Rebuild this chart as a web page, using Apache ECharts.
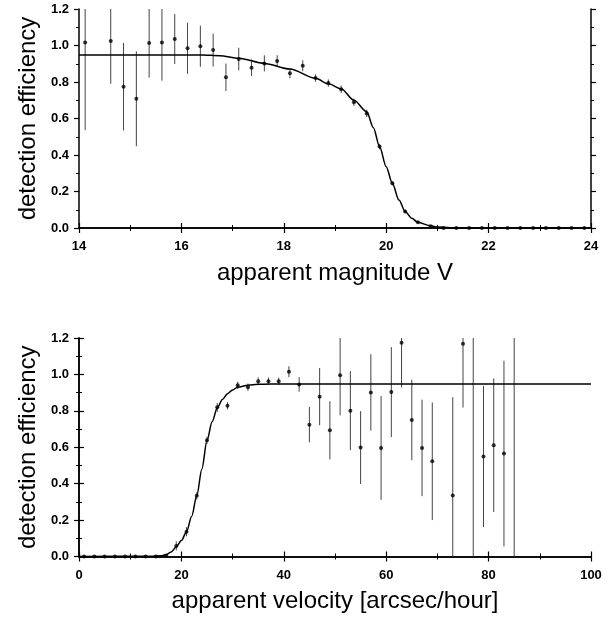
<!DOCTYPE html>
<html>
<head>
<meta charset="utf-8">
<script src="https://cdn.jsdelivr.net/npm/echarts@6/dist/echarts.min.js"></script>
<style>
  html, body { margin: 0; padding: 0; background: #fff; }
  #chart { width: 616px; height: 621px; }
</style>
</head>
<body>
<div id="chart"></div>
<script>
// 上图：视星等 V
const magV = [14.12, 14.62, 14.87, 15.12, 15.37, 15.62, 15.87, 16.12, 16.37, 16.62,
    16.87, 17.12, 17.37, 17.62, 17.87, 18.12, 18.37, 18.62, 18.87, 19.12,
    19.37, 19.62, 19.87, 20.12, 20.37, 20.62, 20.87, 21.12, 21.37, 21.62,
    21.87, 22.12, 22.37, 22.62, 22.87, 23.12, 23.37, 23.62, 23.87];
const effMag = [1.017, 1.025, 0.774, 0.708, 1.014, 1.017, 1.036, 0.985, 0.996, 0.975,
    0.826, 0.926, 0.878, 0.902, 0.915, 0.848, 0.889, 0.822, 0.794, 0.760,
    0.689, 0.628, 0.446, 0.245, 0.091, 0.031, 0.010, 0, 0, 0,
    0, 0, 0, 0, 0, 0, 0, 0, 0];
const errMag = [0.48, 0.235, 0.24, 0.26, 0.19, 0.21, 0.137, 0.14, 0.113, 0.09,
    0.075, 0.062, 0.045, 0.044, 0.032, 0.028, 0.03, 0.02, 0.02, 0.02,
    0.02, 0.02, 0.015, 0.012, 0.01, 0.005, 0.003, 0, 0, 0,
    0, 0, 0, 0, 0, 0, 0, 0, 0];
// 拟合曲线
const magFit = [14, 16.4, 16.75, 17.12, 17.62, 18.12, 18.62, 18.87, 19.12, 19.37,
    19.62, 19.75, 19.87, 20, 20.12, 20.25, 20.37, 20.5, 20.62, 20.87,
    21, 21.25, 21.5, 24];
const effMagFit = [0.948, 0.948, 0.944, 0.93, 0.902, 0.871, 0.82, 0.79, 0.763, 0.70,
    0.637, 0.55, 0.446, 0.336, 0.245, 0.153, 0.091, 0.053, 0.031, 0.012,
    0.006, 0.002, 0, 0];

// 下图：视运动速度
const velX = [1, 3, 5, 7, 9, 11, 13, 15, 17, 19, 21, 23, 25, 27, 29, 31, 33, 35, 37, 39,
    41, 43, 45, 47, 49, 51, 53, 55, 57, 59, 61, 63, 65, 67, 69, 73, 75, 77, 79, 81, 83, 85];
const effVel = [0, 0, 0, 0, 0, 0, 0, 0, 0.005, 0.058, 0.136, 0.333, 0.638, 0.819, 0.828, 0.94, 0.93, 0.963, 0.963, 0.962,
    1.015, 0.945, 0.724, 0.878, 0.693, 0.995, 0.801, 0.598, 0.901, 0.596, 0.903, 1.174, 0.75, 0.596, 0.523,
    0.335, 1.168, 1.3, 0.549, 0.611, 0.565, 1.3];
const errVel = [0, 0, 0, 0, 0, 0, 0, 0, 0.005, 0.025, 0.025, 0.02, 0.02, 0.025, 0.02, 0.02, 0.02, 0.02, 0.02, 0.02,
    0.03, 0.04, 0.097, 0.157, 0.16, 0.22, 0.217, 0.2, 0.21, 0.285, 0.247, 0.245, 0.221, 0.265, 0.323,
    0.54, 0.35, 1.5, 0.387, 0.367, 0.51, 1.5];
const velFit = [0, 14, 16, 17, 18, 19, 20, 21, 22, 23, 24, 25, 26, 27, 28, 29, 30, 31, 33, 35, 40, 100];
const effVelFit = [0, 0.001, 0.004, 0.01, 0.025, 0.054, 0.088, 0.136, 0.22, 0.333, 0.48, 0.638,
    0.74, 0.815, 0.862, 0.894, 0.915, 0.93, 0.941, 0.946, 0.948, 0.948];

const FONT = 'Liberation Sans, Arial, sans-serif';

function pairs(xs, ys) {
    return xs.map((x, i) => [x, ys[i]]);
}

function xAxis(grid, position, min, max, interval, name) {
    const main = position === 'bottom';
    return {
        type: 'value', gridIndex: grid, position: position,
        min: min, max: max, interval: interval,
        name: main ? name : '', nameLocation: 'middle', nameGap: 33,
        nameTextStyle: { fontFamily: FONT, fontSize: 24, color: '#000' },
        axisLine: { show: true, lineStyle: { color: '#000', width: 1.5 } },
        axisTick: { show: true, inside: false, length: 5, lineStyle: { color: '#000', width: 1.2 } },
        minorTick: { show: true, splitNumber: 2, length: 3, lineStyle: { color: '#000', width: 1 } },
        axisLabel: { show: main, margin: 12, fontFamily: FONT, fontSize: 13, fontWeight: 'bold', color: '#000' },
        splitLine: { show: false }
    };
}

function yAxis(grid, position) {
    const main = position === 'left';
    return {
        type: 'value', gridIndex: grid, position: position,
        min: 0, max: 1.2, interval: 0.2,
        name: main ? 'detection efficiency' : '', nameLocation: 'middle', nameGap: 37,
        nameTextStyle: { fontFamily: FONT, fontSize: 24, color: '#000' },
        axisLine: { show: true, lineStyle: { color: '#000', width: 1.5 } },
        axisTick: { show: true, inside: false, length: 5, lineStyle: { color: '#000', width: 1.2 } },
        minorTick: { show: true, splitNumber: 2, length: 3, lineStyle: { color: '#000', width: 1 } },
        axisLabel: {
            show: main, margin: 10, fontFamily: FONT, fontSize: 13, fontWeight: 'bold', color: '#000',
            formatter: v => v.toFixed(1)
        },
        splitLine: { show: false }
    };
}

// 误差棒
function errorBars(xs, ys, es, xi, yi) {
    return {
        type: 'custom', xAxisIndex: xi, yAxisIndex: yi, clip: true, z: 2,
        data: xs.map((x, i) => [x, ys[i] - es[i], ys[i] + es[i]]),
        encode: { x: 0, y: [1, 2] },
        renderItem: (params, api) => {
            const lo = api.coord([api.value(0), api.value(1)]);
            const hi = api.coord([api.value(0), api.value(2)]);
            return {
                type: 'line',
                shape: { x1: lo[0], y1: lo[1], x2: hi[0], y2: hi[1] },
                style: { stroke: '#444', lineWidth: 1 }
            };
        }
    };
}

function points(xs, ys, xi, yi) {
    return {
        type: 'scatter', xAxisIndex: xi, yAxisIndex: yi, clip: true, z: 3,
        symbol: 'circle', symbolSize: 4,
        itemStyle: { color: '#000' },
        data: pairs(xs, ys)
    };
}

function fitLine(xs, ys, xi, yi) {
    return {
        type: 'line', xAxisIndex: xi, yAxisIndex: yi, z: 4,
        smooth: 0.3, smoothMonotone: 'x', showSymbol: false,
        lineStyle: { color: '#000', width: 1.5 },
        data: pairs(xs, ys)
    };
}

const chart = echarts.init(document.getElementById('chart'));
chart.setOption({
    animation: false,
    backgroundColor: '#fff',
    grid: [
        { left: 79, right: 25, top: 9, height: 219 },
        { left: 79, right: 25, top: 338, height: 218.5 }
    ],
    xAxis: [
        xAxis(0, 'bottom', 14, 24, 2, 'apparent magnitude V'),
        xAxis(0, 'top', 14, 24, 2, ''),
        xAxis(1, 'bottom', 0, 100, 20, 'apparent velocity [arcsec/hour]'),
        xAxis(1, 'top', 0, 100, 20, '')
    ],
    yAxis: [
        yAxis(0, 'left'),
        yAxis(0, 'right'),
        yAxis(1, 'left'),
        yAxis(1, 'right')
    ],
    series: [
        errorBars(magV, effMag, errMag, 0, 0),
        points(magV, effMag, 0, 0),
        fitLine(magFit, effMagFit, 0, 0),
        errorBars(velX, effVel, errVel, 2, 2),
        points(velX, effVel, 2, 2),
        fitLine(velFit, effVelFit, 2, 2)
    ]
});
</script>
</body>
</html>
